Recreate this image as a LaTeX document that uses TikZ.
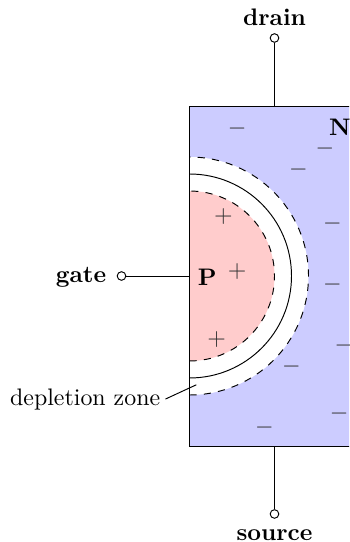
\documentclass[tikz,border=0pt]{standalone}
\tikzset{
  terminal/.style={circle,draw,fill=white,inner sep=0pt,minimum size=3.6pt},
  charge/.style={black!80,inner sep=0pt},
  termlabel/.style={font=\bfseries}
}
\begin{document}
\begin{tikzpicture}[x=1cm,y=1cm]
  \useasboundingbox (-2.787,-3.912) rectangle (2.346,4.059);
  \clip (-2.787,-3.912) rectangle (2.346,4.059);
  % channel and gate region
  \coordinate (boxtop) at (1.25,2.5);
  \coordinate (boxbottom) at (1.25,-2.5);
  \coordinate (boxleft) at (0,0);
  \fill[blue!20] (0,-2.5) rectangle (3,2.5);
  \fill[white] (0,-1.75) arc[start angle=-90,end angle=90,radius=1.75] -- cycle;
  \fill[red!20] (0,-1.25) arc[start angle=-90,end angle=90,radius=1.25] -- cycle;
  \draw[dashed] (0,-1.75) arc[start angle=-90,end angle=90,radius=1.75];
  \draw (0,-1.5) arc[start angle=-90,end angle=90,radius=1.5];
  \draw[dashed] (0,-1.25) arc[start angle=-90,end angle=90,radius=1.25];
  \draw (3,2.5) -- (0,2.5) -- (0,-2.5) -- (3,-2.5);
  % terminals
  \node[terminal] (drain) at (1.25,3.5) {};
  \node[terminal] (source) at (1.25,-3.5) {};
  \node[terminal] (gate) at (-1,0) {};
  \draw (drain) -- (boxtop);
  \draw (source) -- (boxbottom);
  \draw (gate) -- (boxleft);
  \node[termlabel] (drainlabel) at (1.25,3.81) {drain};
  \node[termlabel] (sourcelabel) at (1.25,-3.81) {source};
  \node[termlabel,anchor=east] (gatelabel) at (-1.10,-0.02) {gate};
  \node[termlabel] (plabel) at (0.26,-0.02) {P};
  \node[termlabel] (nlabel) at (2.21,2.19) {N};
  % charges
  \foreach \x/\y in {0.70/2.17,1.99/1.88,1.60/1.57,2.10/0.77,2.10/-0.12,2.27/-1.02,1.50/-1.33,2.20/-2.02,1.10/-2.23}
    \node[charge] at (\x,\y) {$-$};
  \foreach \x/\y in {0.50/0.87,0.70/0.07,0.40/-0.93}
    \node[charge] at (\x,\y) {$+$};
  % depletion zone
  \node[anchor=east,inner xsep=2pt] (zonelabel) at (-0.354,-1.81) {depletion zone};
  \coordinate (zonetip) at (0.10,-1.60);
  \draw (zonelabel.east) -- (zonetip);
\end{tikzpicture}
\end{document}
